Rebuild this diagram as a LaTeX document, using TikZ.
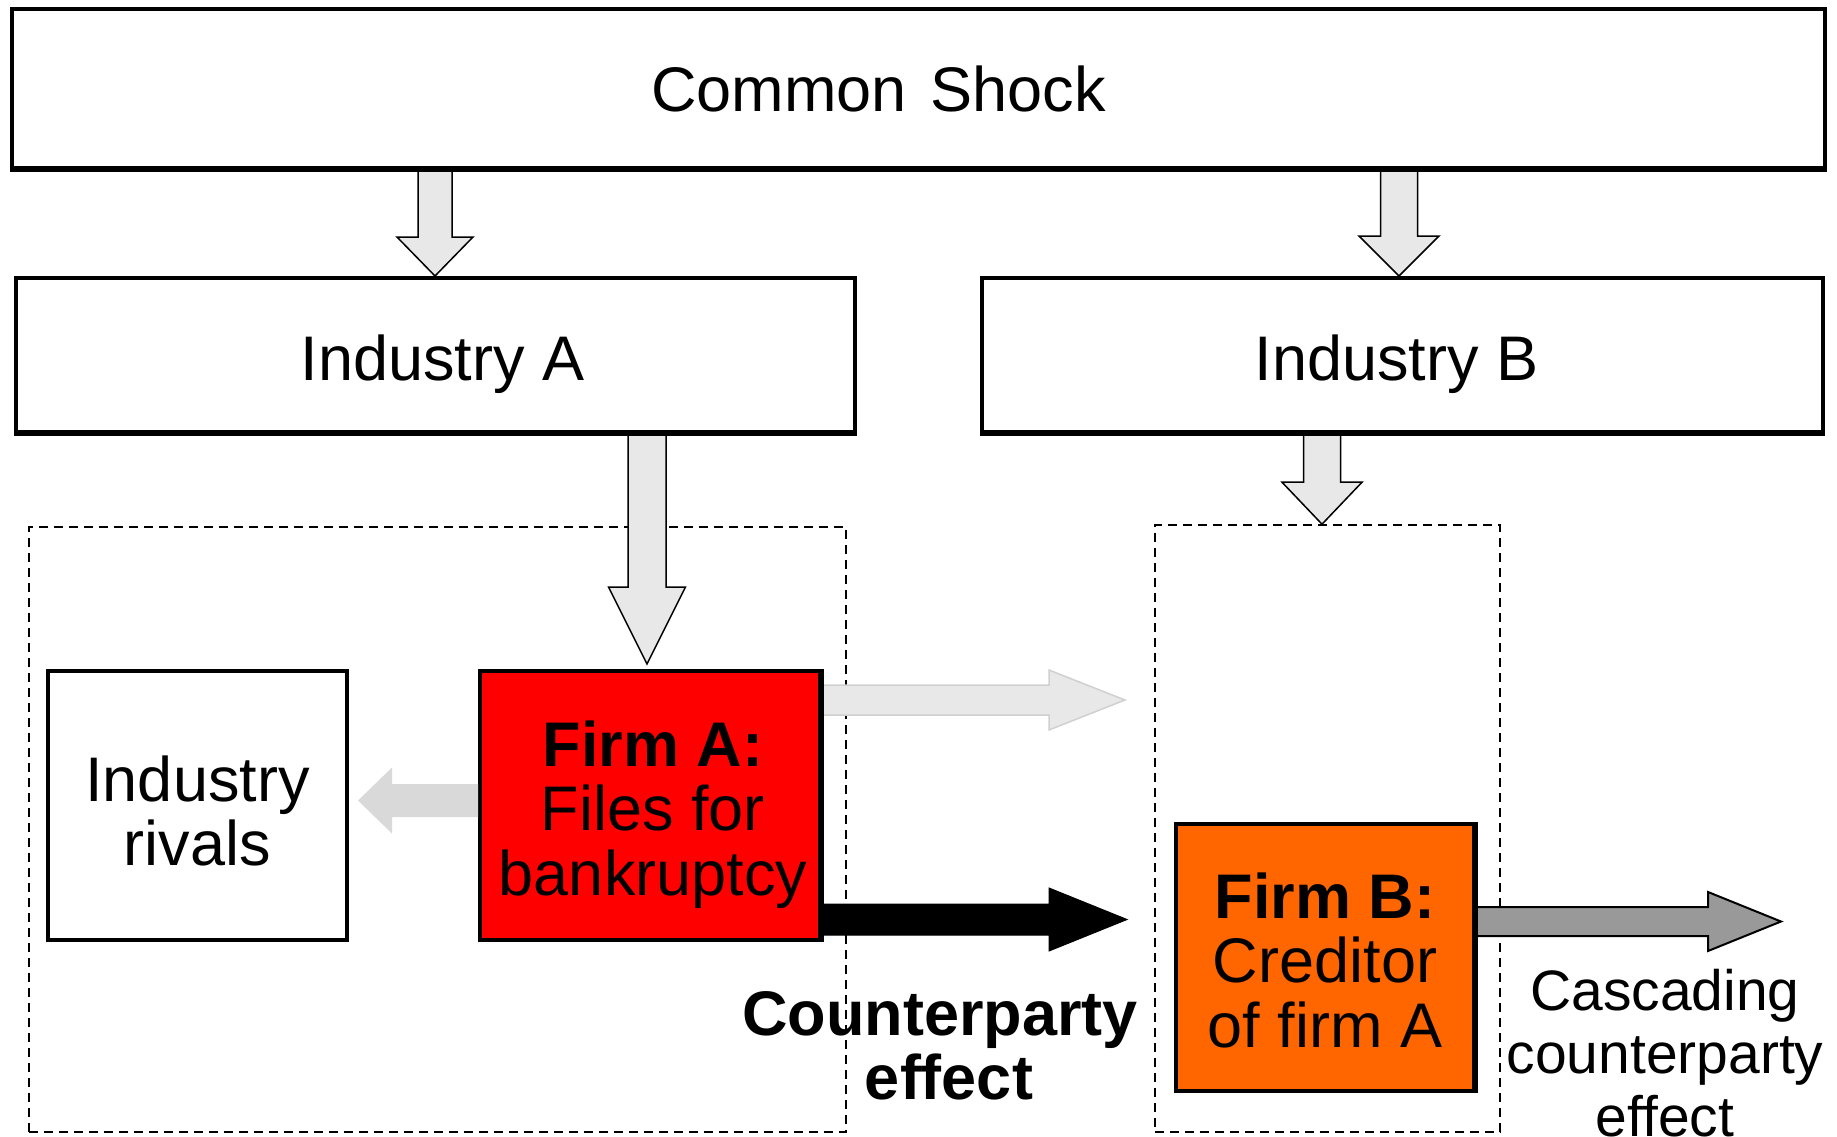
\documentclass[tikz,border=0pt]{standalone}
\usepackage{fontspec}
\setmainfont{Liberation Sans}
\usetikzlibrary{calc}
\definecolor{lightfill}{HTML}{E8E8E8}
\definecolor{rivalfill}{HTML}{D9D9D9}
\definecolor{lightedge}{HTML}{D0D0D0}
\definecolor{grayfill}{HTML}{999999}
\definecolor{firmred}{HTML}{FF0000}
\definecolor{firmorange}{HTML}{FF6600}
% vertical block arrow: style, start, end, half shaft, half head, head length
\newcommand\vblockarrow[6]{%
  \draw[#1] let \p1=(#2),\p2=(#3) in
    (\x1-#4,\y1) -- (\x1-#4,\y2+#6) -- (\x1-#5,\y2+#6) -- (\x1,\y2)
    -- (\x1+#5,\y2+#6) -- (\x1+#4,\y2+#6) -- (\x1+#4,\y1) -- cycle;}
% horizontal block arrow: style, start, end, half shaft, half head, signed head length
\newcommand\hblockarrow[6]{%
  \draw[#1] let \p1=(#2),\p2=(#3) in
    (\x1,\y1+#4) -- (\x2-#6,\y1+#4) -- (\x2-#6,\y1+#5) -- (\x2,\y1)
    -- (\x2-#6,\y1-#5) -- (\x2-#6,\y1-#4) -- (\x1,\y1-#4) -- cycle;}
% lower content visually while keeping its measured size
\newcommand\lowertext[2]{\raisebox{-#1}[\height][\depth]{#2}}
\begin{document}
\begin{tikzpicture}[x=1pt,y=-1pt,
  box/.style={draw=black, line width=4pt, fill=white, inner sep=0pt, align=center,
    font=\fontsize{63}{64}\selectfont},
  group/.style={draw=black, line width=1.6pt, dash pattern=on 9pt off 6pt, inner sep=0pt},
  label/.style={inner sep=0pt, align=center, font=\fontsize{63}{64}\selectfont},
  downarrow/.style={fill=lightfill, draw=black, line width=1.5pt, line join=miter},
  rivalarrow/.style={fill=rivalfill, draw=none},
  lightarrow/.style={fill=lightfill, draw=lightedge, line width=1.5pt},
  blackarrow/.style={fill=black, draw=black, line width=1pt},
  grayarrow/.style={fill=grayfill, draw=black, line width=2pt, line join=miter}]
\useasboundingbox (0,0) rectangle (1837,1137);

% dashed group boxes
\node[group, minimum width=817pt, minimum height=605pt] (da) at (437.5,829.5) {};
\node[group, minimum width=345pt, minimum height=607pt] (db) at (1327.5,828.5) {};

% main boxes
\node[box, minimum width=1813pt, minimum height=159pt] (cs) at (918.5,88.5) {\hspace*{-80pt}Common\hspace{6pt} Shock};
\node[box, minimum width=839pt, minimum height=154pt] (ia) at (435.5,355) {\hspace*{14pt}\lowertext{9pt}{Industry A}};
\node[box, minimum width=841pt, minimum height=154pt] (ib) at (1402.5,355) {\hspace*{-12pt}\lowertext{9pt}{Industry B}};
\node[box, minimum width=299pt, minimum height=269pt] (rivals) at (197.5,805.5) {\lowertext{15pt}{\begin{tabular}{@{}c@{}}Industry\\[-0.5pt]rivals\end{tabular}}};
\node[box, fill=firmred, minimum width=340pt, minimum height=269pt] (firma) at (650,805.5) {\hspace*{6pt}\lowertext{12pt}{\begin{tabular}{@{}c@{}}\textbf{Firm A:}\\[-0.5pt]Files for\\[-0.5pt]bankruptcy\end{tabular}}};
\node[box, fill=firmorange, minimum width=298pt, minimum height=267pt] (firmb) at (1325,957.5) {\lowertext{12pt}{\begin{tabular}{@{}c@{}}\textbf{Firm B:}\\[-0.5pt]Creditor\\[-0.5pt]of firm A\end{tabular}}};

% text labels
\node[label, font=\fontsize{63}{64}\selectfont\bfseries] (cp) at (940,1046) {Counterparty\\\hspace*{18pt}effect};
\node[label, font=\fontsize{57}{63}\selectfont] (cc) at (1665,1053) {Cascading\\counterparty\\effect};

% connector end points
\coordinate (a1s) at ($(cs.south)+(-483.5,0)$);
\coordinate (a1e) at (a1s |- ia.north);
\coordinate (a2s) at ($(cs.south)+(480.5,0)$);
\coordinate (a2e) at (a2s |- ib.north);
\coordinate (a3s) at ($(ia.south)+(211.5,0)$);
\coordinate (a3e) at ($(a3s |- firma.north)+(0,-5)$);
\coordinate (a4s) at ($(ib.south)+(-80.5,0)$);
\coordinate (a4e) at (a4s |- db.north);
\coordinate (a5s) at ($(firma.west)+(0,-5)$);
\coordinate (a5e) at (358,800.5);
\coordinate (a6s) at (822,700);
\coordinate (a6e) at (1125,700);
\coordinate (a7s) at (firma.east |- 0,919.5);
\coordinate (a7e) at (1127,919.5);
\coordinate (a8s) at (firmb.east |- 0,921.5);
\coordinate (a8e) at (1781,921.5);

% block arrows
\vblockarrow{downarrow}{a1s}{a1e}{17pt}{38pt}{39pt}
\vblockarrow{downarrow}{a2s}{a2e}{18.5pt}{40pt}{40pt}
\vblockarrow{downarrow}{a3s}{a3e}{19pt}{38.5pt}{77pt}
\vblockarrow{downarrow}{a4s}{a4e}{18.5pt}{40pt}{42pt}
\hblockarrow{rivalarrow}{a5s}{a5e}{16.5pt}{33pt}{-34pt}
\hblockarrow{lightarrow}{a6s}{a6e}{15pt}{30pt}{76pt}
\hblockarrow{blackarrow}{a7s}{a7e}{15.5pt}{31.5pt}{78pt}
\hblockarrow{grayarrow}{a8s}{a8e}{14.5pt}{29.5pt}{73pt}

% redraw box borders over arrow starts
\draw[line width=4pt] (cs.south west) -- (cs.south east);
\draw[line width=4pt] (ia.south west) -- (ia.south east);
\draw[line width=4pt] (ib.south west) -- (ib.south east);
\draw[line width=4pt] (firma.north east) -- (firma.south east);
\draw[line width=4pt] (firmb.north east) -- (firmb.south east);
\end{tikzpicture}
\end{document}
